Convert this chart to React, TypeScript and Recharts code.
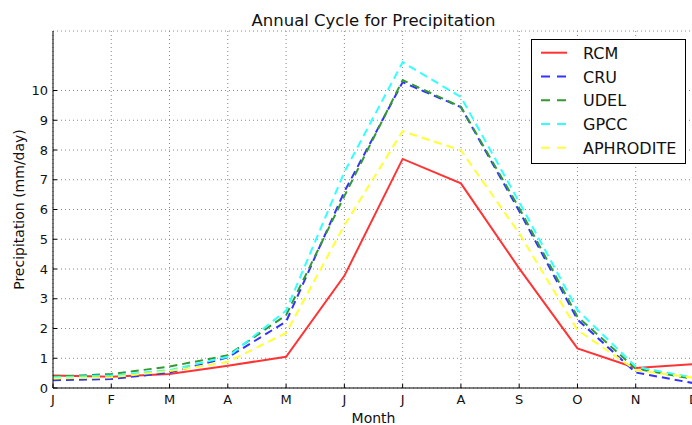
import React from 'react';
import { LineChart, Line, XAxis, YAxis, CartesianGrid } from 'recharts';

const MONTHS = ['J', 'F', 'M', 'A', 'M', 'J', 'J', 'A', 'S', 'O', 'N', 'D'];
const RCM = [0.42, 0.38, 0.47, 0.75, 1.05, 3.77, 7.7, 6.88, 4.02, 1.33, 0.67, 0.8];
const CRU = [0.26, 0.3, 0.52, 1.03, 2.23, 6.6, 10.28, 9.44, 5.95, 2.3, 0.52, 0.16];
const UDEL = [0.38, 0.47, 0.72, 1.1, 2.45, 6.45, 10.35, 9.45, 6.05, 2.4, 0.65, 0.3];
const GPCC = [0.36, 0.42, 0.6, 1.05, 2.6, 7.26, 10.95, 9.78, 6.25, 2.62, 0.72, 0.34];
const APHRODITE = [0.32, 0.36, 0.57, 0.88, 1.85, 5.47, 8.63, 7.99, 5.2, 1.95, 0.6, 0.34];
const Y_TICKS = [0, 1, 2, 3, 4, 5, 6, 7, 8, 9, 10];
const X_TICKS = MONTHS.map((_, i) => i);

const SERIES = [
  { key: 'RCM', color: '#ff3333', dash: undefined as string | undefined },
  { key: 'CRU', color: '#3333ff', dash: '8 5' },
  { key: 'UDEL', color: '#339933', dash: '8 5' },
  { key: 'GPCC', color: '#33ffff', dash: '8 5' },
  { key: 'APHRODITE', color: '#ffff33', dash: '8 5' },
];

const data = MONTHS.map((m, i) => ({
  idx: i,
  RCM: RCM[i],
  CRU: CRU[i],
  UDEL: UDEL[i],
  GPCC: GPCC[i],
  APHRODITE: APHRODITE[i],
}));

const FONT = '"DejaVu Sans", sans-serif';

const XTickBottom = (props: any) => {
  const { x, y, payload } = props;
  return (
    <g>
      <line x1={x} x2={x} y1={y} y2={y - 4} stroke="#000" />
      <text x={x} y={y + 16} textAnchor="middle" fontSize={13} fill="#111" fontFamily={FONT}>
        {MONTHS[payload.value]}
      </text>
    </g>
  );
};
const XTickTop = (props: any) => {
  const { x, y } = props;
  return <line x1={x} x2={x} y1={y} y2={y + 4} stroke="#000" />;
};
const YTickLeft = (props: any) => {
  const { x, y, payload } = props;
  return (
    <g>
      <line x1={x} x2={x + 4} y1={y} y2={y} stroke="#000" />
      <text x={x - 5} y={y + 4.5} textAnchor="end" fontSize={13} fill="#111" fontFamily={FONT}>
        {payload.value}
      </text>
    </g>
  );
};
const YTickRight = (props: any) => {
  const { x, y } = props;
  return <line x1={x} x2={x - 4} y1={y} y2={y} stroke="#000" />;
};

export default function App() {
  const legendTop = 39;
  const rowYs = [52.7, 76.5, 100.2, 124, 147.7];
  return (
    <div style={{ position: 'absolute', left: 0, top: 0, width: 692, height: 425, overflow: 'hidden', background: '#fff' }}>
      <LineChart width={700} height={425} data={data} margin={{ top: 31, right: 6, bottom: 0, left: 0 }}>
        <CartesianGrid stroke="#888" strokeDasharray="1 3" strokeWidth={1} />
        <XAxis
          dataKey="idx"
          type="number"
          domain={[0, 11]}
          ticks={X_TICKS}
          interval={0}
          height={37}
          tickSize={0}
          tickMargin={0}
          tickLine={false}
          axisLine={{ stroke: '#000' }}
          tick={<XTickBottom />}
        />
        <XAxis
          xAxisId="top"
          orientation="top"
          dataKey="idx"
          type="number"
          domain={[0, 11]}
          ticks={X_TICKS}
          interval={0}
          height={0}
          tickSize={0}
          tickMargin={0}
          tickLine={false}
          axisLine={{ stroke: '#000' }}
          tick={<XTickTop />}
        />
        <YAxis
          type="number"
          domain={[0, 12]}
          ticks={Y_TICKS}
          interval={0}
          width={53}
          tickSize={0}
          tickMargin={0}
          tickLine={false}
          axisLine={{ stroke: '#000' }}
          tick={<YTickLeft />}
        />
        <YAxis
          yAxisId="right"
          orientation="right"
          type="number"
          domain={[0, 12]}
          ticks={Y_TICKS}
          interval={0}
          width={0}
          tickSize={0}
          tickMargin={0}
          tickLine={false}
          axisLine={{ stroke: '#000' }}
          tick={<YTickRight />}
        />
        {SERIES.map((s) => (
          <Line
            key={s.key}
            dataKey={s.key}
            type="linear"
            stroke={s.color}
            strokeWidth={2}
            strokeDasharray={s.dash}
            dot={false}
            activeDot={false}
            isAnimationActive={false}
          />
        ))}
      </LineChart>
      <svg
        width={692}
        height={425}
        style={{ position: 'absolute', left: 0, top: 0, pointerEvents: 'none' }}
        fontFamily={FONT}
      >
        <text x={373.5} y={26} textAnchor="middle" fontSize={16.5} fill="#111">
          Annual Cycle for Precipitation
        </text>
        <text x={373.5} y={423} textAnchor="middle" fontSize={14} fill="#111">
          Month
        </text>
        <text transform="translate(24,209.5) rotate(-90)" textAnchor="middle" fontSize={14} fill="#111">
          Precipitation (mm/day)
        </text>
        <rect x={531.5} y={legendTop + 0.5} width={154} height={124} fill="#fff" stroke="#000" strokeWidth={1} />
        {SERIES.map((s, i) => (
          <g key={s.key}>
            <line
              x1={541}
              x2={567}
              y1={rowYs[i]}
              y2={rowYs[i]}
              stroke={s.color}
              strokeWidth={2}
              strokeDasharray={s.dash ? '9 7' : undefined}
            />
            <text x={583} y={rowYs[i] + 6} fontSize={16} fill="#111">
              {s.key}
            </text>
          </g>
        ))}
      </svg>
    </div>
  );
}
